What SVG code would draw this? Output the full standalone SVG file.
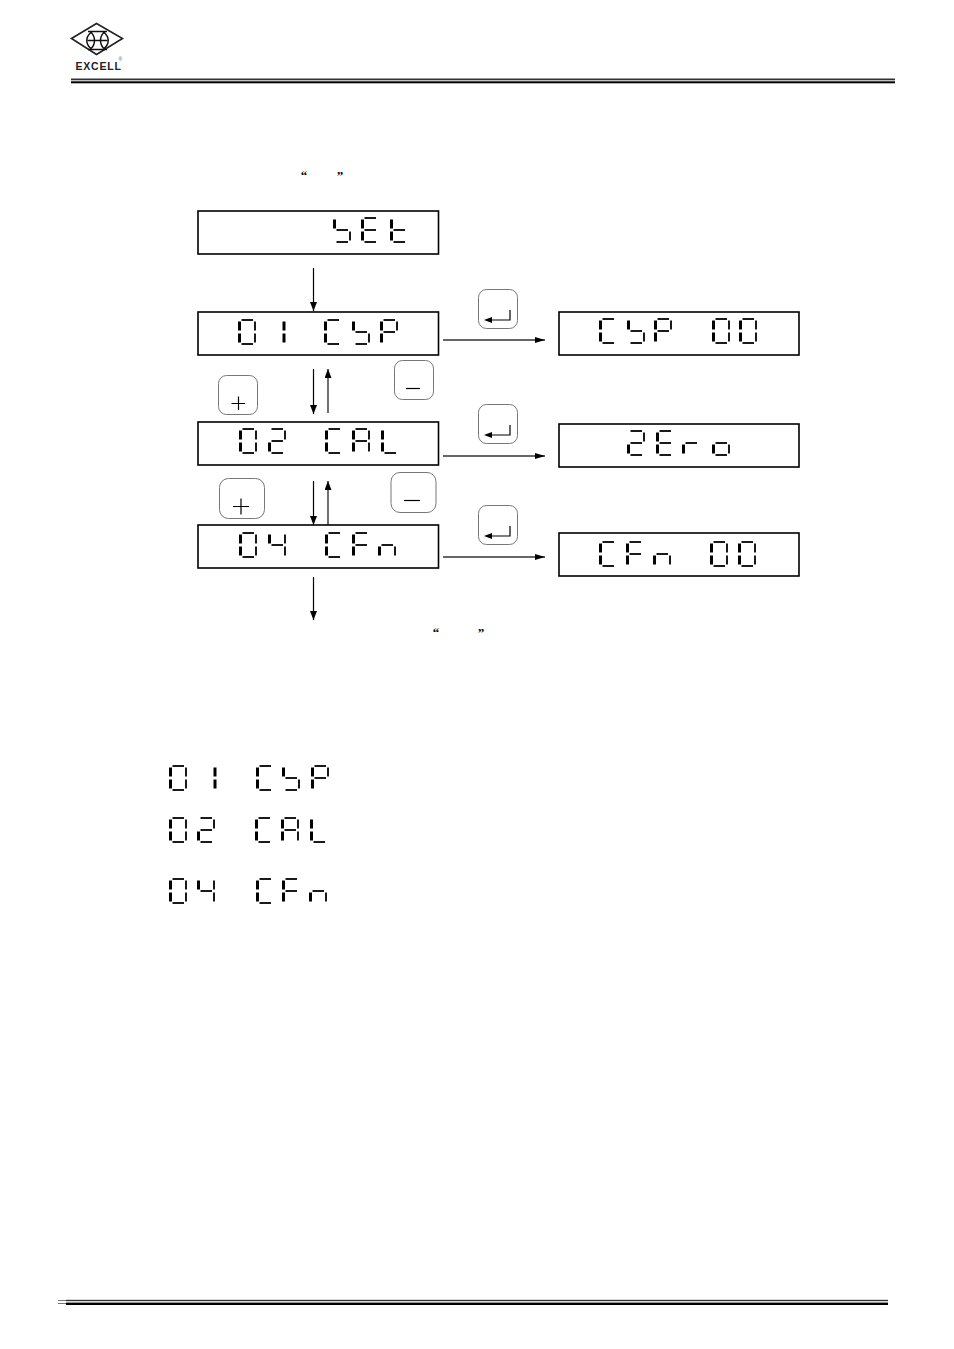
<svg xmlns="http://www.w3.org/2000/svg" xmlns:xlink="http://www.w3.org/1999/xlink" width="954" height="1349" viewBox="0 0 954 1349">
<style>
.bg{fill:#fff}
.box{fill:#fff;stroke:#000;stroke-width:1.6}
.key{fill:#fff;stroke:#777;stroke-width:1}
.sym{fill:none;stroke:#000;stroke-width:1.2}
.wire{fill:none;stroke:#000;stroke-width:1.2}
.wg{fill:none;stroke:#333;stroke-width:1.4}
.s{fill:none;stroke:#000;stroke-width:1.8}
.l{fill:none;stroke:#000;stroke-width:3}
.q{font-family:"Liberation Serif",serif;font-size:13px;font-weight:bold;fill:#000;text-anchor:middle}
.logo{font-family:"Liberation Sans",sans-serif;font-weight:bold;font-size:10.5px;letter-spacing:.8px;fill:#222}
</style>
<defs>
<marker id="ah" viewBox="0 0 9 7" refX="9" refY="3.500" markerWidth="9" markerHeight="7" markerUnits="userSpaceOnUse" orient="auto"><path d="M0 0L9 3.500L0 7z" fill="#000"/></marker>
<marker id="ahs" viewBox="0 0 10 6" refX="10" refY="3" markerWidth="10" markerHeight="6" markerUnits="userSpaceOnUse" orient="auto"><path d="M0 0L10 3L0 6z" fill="#000"/></marker>
<g id="a"><line class="s" x1="3.500" y1="1" x2="15" y2="1"/></g>
<g id="g"><line class="s" x1="3.500" y1="13" x2="15" y2="13"/></g>
<g id="d"><line class="s" x1="3.500" y1="25" x2="15" y2="25"/></g>
<g id="f"><line class="l" x1="1.500" y1="2.500" x2="1.500" y2="11.500"/></g>
<g id="e"><line class="l" x1="1.500" y1="14.500" x2="1.500" y2="23.500"/></g>
<g id="b"><line class="s" x1="17" y1="2.500" x2="17" y2="11.500"/></g>
<g id="c"><line class="s" x1="17" y1="14.500" x2="17" y2="23.500"/></g>
<g id="c0"><use xlink:href="#a"/><use xlink:href="#b"/><use xlink:href="#c"/><use xlink:href="#d"/><use xlink:href="#e"/><use xlink:href="#f"/></g>
<g id="c1"><line class="l" x1="17" y1="2.500" x2="17" y2="11.500"/><line class="l" x1="17" y1="14.500" x2="17" y2="23.500"/></g>
<g id="c2"><use xlink:href="#a"/><use xlink:href="#b"/><use xlink:href="#g"/><use xlink:href="#e"/><use xlink:href="#d"/></g>
<g id="c4"><use xlink:href="#f"/><use xlink:href="#g"/><use xlink:href="#b"/><use xlink:href="#c"/></g>
<g id="cC"><use xlink:href="#a"/><use xlink:href="#f"/><use xlink:href="#e"/><use xlink:href="#d"/></g>
<g id="cS"><use xlink:href="#f"/><use xlink:href="#g"/><use xlink:href="#c"/><use xlink:href="#d"/></g>
<g id="cP"><use xlink:href="#a"/><use xlink:href="#f"/><use xlink:href="#b"/><use xlink:href="#g"/><use xlink:href="#e"/></g>
<g id="cE"><use xlink:href="#a"/><use xlink:href="#f"/><use xlink:href="#g"/><use xlink:href="#e"/><use xlink:href="#d"/></g>
<g id="ct"><use xlink:href="#f"/><use xlink:href="#g"/><use xlink:href="#e"/><use xlink:href="#d"/></g>
<g id="cA"><use xlink:href="#a"/><use xlink:href="#f"/><use xlink:href="#b"/><use xlink:href="#g"/><use xlink:href="#e"/><use xlink:href="#c"/></g>
<g id="cL"><use xlink:href="#f"/><use xlink:href="#e"/><use xlink:href="#d"/></g>
<g id="cF"><use xlink:href="#a"/><use xlink:href="#f"/><use xlink:href="#g"/><use xlink:href="#e"/></g>
<g id="cn"><use xlink:href="#e"/><use xlink:href="#g"/><use xlink:href="#c"/></g>
<g id="cr"><use xlink:href="#e"/><use xlink:href="#g"/></g>
<g id="co"><use xlink:href="#e"/><use xlink:href="#g"/><use xlink:href="#c"/><use xlink:href="#d"/></g>
<g id="enter"><rect class="key" x=".5" y=".5" width="39" height="39" rx="8"/><path class="sym" d="M32 21V31H12"/><path d="M6 31L14 28V34z" fill="#000"/></g>
</defs>
<rect class="bg" width="954" height="1349"/>

<g id="logo">
<path d="M71.500 38.500L96.500 23.500L122.500 38.500L96.500 54.500z" fill="#fff" stroke="#222" stroke-width="1.6"/>
<path d="M88 31.500H107M88 49.500H107M87.500 40.500H107.500" fill="none" stroke="#111" stroke-width="1.6"/>
<path d="M90 31.500C96 36 96 45 90 49.500M105 31.500C99 36 99 45 105 49.500M92 31.500C85 37 85 44 92 49.500M103 31.500C110 37 110 44 103 49.500" fill="none" stroke="#111" stroke-width="1.5"/>
<text class="logo" x="75.500" y="69.500">EXCELL</text>
<text x="118.500" y="61" font-family="Liberation Sans, sans-serif" font-size="5px" fill="#555">®</text>
</g>

<g id="header-rule">
<rect x="71" y="78.500" width="824" height="1.8" fill="#333"/>
<rect x="71" y="81.300" width="824" height="2" fill="#000"/>
</g>
<g id="footer-rule">
<rect x="58" y="1300" width="8" height="1" fill="#777"/>
<rect x="58" y="1303" width="8" height="1" fill="#777"/>
<rect x="66" y="1299.800" width="822" height="1.400" fill="#333"/>
<rect x="66" y="1302.600" width="822" height="2.400" fill="#000"/>
</g>

<text class="q" x="304" y="180">“</text>
<text class="q" x="340" y="180">”</text>
<text class="q" x="436" y="637">“</text>
<text class="q" x="481" y="637">”</text>

<g id="connectors">
<line class="wire" x1="313.500" y1="268" x2="313.500" y2="311" marker-end="url(#ah)"/>
<line class="wire" x1="313.500" y1="369" x2="313.500" y2="414" marker-end="url(#ah)"/>
<line class="wg" x1="328" y1="413" x2="328" y2="369" marker-end="url(#ah)"/>
<line class="wire" x1="313.500" y1="481" x2="313.500" y2="525" marker-end="url(#ah)"/>
<line class="wg" x1="328" y1="525" x2="328" y2="481" marker-end="url(#ah)"/>
<line class="wire" x1="313.500" y1="577" x2="313.500" y2="620" marker-end="url(#ah)"/>
<line class="wg" x1="443" y1="340" x2="545" y2="340" marker-end="url(#ahs)"/>
<line class="wg" x1="443" y1="456" x2="545" y2="456" marker-end="url(#ahs)"/>
<line class="wg" x1="443" y1="557" x2="545" y2="557" marker-end="url(#ahs)"/>
</g>

<g id="node-set" aria-label="SEt">
<rect class="box" x="198" y="211" width="240.500" height="43"/>
<use xlink:href="#cS" x="333" y="217"/><use xlink:href="#cE" x="361" y="217"/><use xlink:href="#ct" x="390" y="217"/>
</g>
<g id="node-01csp" aria-label="01 CSP">
<rect class="box" x="198" y="312" width="240.500" height="43"/>
<use xlink:href="#c0" x="238" y="319"/><use xlink:href="#c1" x="267" y="319"/><use xlink:href="#cC" x="324" y="319"/><use xlink:href="#cS" x="352" y="319"/><use xlink:href="#cP" x="380" y="319"/>
</g>
<g id="node-02cal" aria-label="02 CAL">
<rect class="box" x="198" y="422" width="240.500" height="43"/>
<use xlink:href="#c0" x="239" y="428"/><use xlink:href="#c2" x="268" y="428"/><use xlink:href="#cC" x="325" y="428"/><use xlink:href="#cA" x="352" y="428"/><use xlink:href="#cL" x="381" y="428"/>
</g>
<g id="node-04cfn" aria-label="04 CFn">
<rect class="box" x="198" y="525" width="240.500" height="43"/>
<use xlink:href="#c0" x="239" y="532"/><use xlink:href="#c4" x="268" y="532"/><use xlink:href="#cC" x="325" y="532"/><use xlink:href="#cF" x="352" y="532"/><use xlink:href="#cn" x="378" y="532"/>
</g>
<g id="node-csp00" aria-label="CSP 00">
<rect class="box" x="559" y="312" width="240" height="43"/>
<use xlink:href="#cC" x="599" y="318"/><use xlink:href="#cS" x="627" y="318"/><use xlink:href="#cP" x="654" y="318"/><use xlink:href="#c0" x="712" y="318"/><use xlink:href="#c0" x="739" y="318"/>
</g>
<g id="node-zero" aria-label="2Ero">
<rect class="box" x="559" y="424" width="240" height="43"/>
<use xlink:href="#c2" x="627" y="430"/><use xlink:href="#cE" x="656" y="430"/><use xlink:href="#cr" x="682" y="430"/><use xlink:href="#co" x="712" y="430"/>
</g>
<g id="node-cfn00" aria-label="CFn 00">
<rect class="box" x="559" y="533" width="240" height="43"/>
<use xlink:href="#cC" x="599" y="541"/><use xlink:href="#cF" x="626" y="541"/><use xlink:href="#cn" x="653" y="541"/><use xlink:href="#c0" x="710" y="541"/><use xlink:href="#c0" x="738" y="541"/>
</g>

<g id="key-enter-1"><use xlink:href="#enter" x="478" y="289"/></g>
<g id="key-enter-2"><use xlink:href="#enter" x="478" y="404"/></g>
<g id="key-enter-3"><use xlink:href="#enter" x="478" y="505"/></g>
<g id="key-plus-1"><rect class="key" x="218.500" y="375.500" width="39" height="39" rx="8"/><path class="sym" d="M231.500 403.500H245M238.500 396.500V410"/></g>
<g id="key-minus-1"><rect class="key" x="394.500" y="360.500" width="39" height="39" rx="8"/><path class="sym" d="M406 388.500H420"/></g>
<g id="key-plus-2"><rect class="key" x="219.500" y="478.500" width="45" height="40" rx="9"/><path class="sym" d="M233 506.500H249M241 498.500V514.500"/></g>
<g id="key-minus-2"><rect class="key" x="391" y="472.500" width="45" height="40" rx="9"/><path class="sym" d="M404 500.500H420"/></g>

<g id="list-01csp" aria-label="01 CSP">
<use xlink:href="#c0" x="169" y="765"/><use xlink:href="#c1" x="198" y="765"/><use xlink:href="#cC" x="256" y="765"/><use xlink:href="#cS" x="282" y="765"/><use xlink:href="#cP" x="311" y="765"/>
</g>
<g id="list-02cal" aria-label="02 CAL">
<use xlink:href="#c0" x="169" y="817"/><use xlink:href="#c2" x="197" y="817"/><use xlink:href="#cC" x="255" y="817"/><use xlink:href="#cA" x="281" y="817"/><use xlink:href="#cL" x="310" y="817"/>
</g>
<g id="list-04cfn" aria-label="04 CFn">
<use xlink:href="#c0" x="169" y="878"/><use xlink:href="#c4" x="197" y="878"/><use xlink:href="#cC" x="256" y="878"/><use xlink:href="#cF" x="282" y="878"/><use xlink:href="#cn" x="309" y="878"/>
</g>
</svg>
